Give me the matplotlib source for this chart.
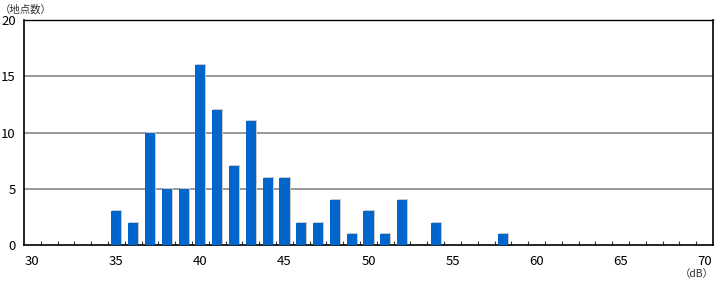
import numpy as np
import matplotlib
matplotlib.use("Agg")
import matplotlib.pyplot as plt

plt.rcParams['font.family'] = ['Noto Sans CJK JP', 'DejaVu Sans']

# noise level (dB) -> number of sites
levels = [35, 36, 37, 38, 39, 40, 41, 42, 43, 44, 45, 46, 47, 48, 49, 50, 51, 52, 54, 58]
counts = [3, 2, 10, 5, 5, 16, 12, 7, 11, 6, 6, 2, 2, 4, 1, 3, 1, 4, 2, 1]
x_ticks = [30, 35, 40, 45, 50, 55, 60, 65, 70]
y_ticks = [0, 5, 10, 15, 20]

fig = plt.figure(figsize=(7.25, 2.87), dpi=100)
ax = fig.add_axes([0.0331, 0.1463, 0.9503, 0.784])

# grid lines behind the bars
for yv in y_ticks[1:-1]:
    ax.axhline(yv, color="#999999", lw=1.4, zorder=1)

# light shadow then bars
ax.bar(np.array(levels) + 0.06, np.array(counts) + 0.08, width=0.6,
       color="#c8c8c8", zorder=2, linewidth=0)
ax.bar(levels, counts, width=0.6, color="#0066cc", zorder=3, linewidth=0)

ax.set_xlim(29.5, 70.5)
ax.set_ylim(0, 20)
ax.set_xticks(x_ticks)
ax.set_yticks(y_ticks)
ax.tick_params(axis="x", length=0, pad=7, labelsize=9.5)
ax.tick_params(axis="y", length=0, pad=6, labelsize=9.5)

# small inward ticks between bins
minor = np.arange(30.5, 70.5, 1.0)
ax.set_xticks(minor, minor=True)
ax.tick_params(axis="x", which="minor", direction="in", length=3, width=0.8, color="#333333")

for s in ax.spines.values():
    s.set_color("black")
    s.set_linewidth(1.2)
ax.spines["top"].set_linewidth(1.0)

fig.text(0.0, 0.965, "（地点数）", fontsize=7.5, color="#333333", ha="left", va="center")
fig.text(0.985, 0.045, "（dB）", fontsize=7.5, color="#333333", ha="right", va="center")

fig.savefig("out.png", dpi=100, facecolor="white")
